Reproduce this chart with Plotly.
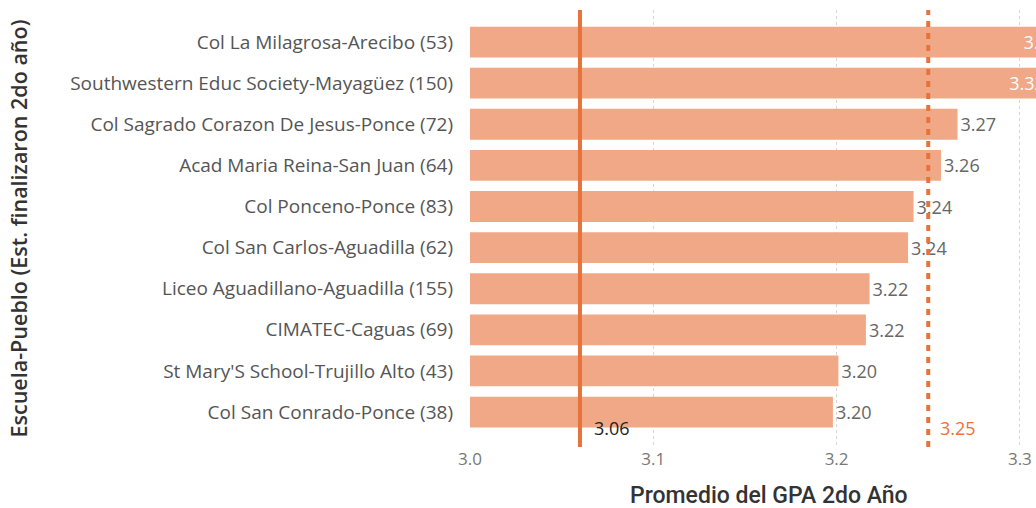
import plotly.graph_objects as go

# data
schools = [
    "Col La Milagrosa-Arecibo (53)",
    "Southwestern Educ Society-Mayagüez (150)",
    "Col Sagrado Corazon De Jesus-Ponce (72)",
    "Acad Maria Reina-San Juan (64)",
    "Col Ponceno-Ponce (83)",
    "Col San Carlos-Aguadilla (62)",
    "Liceo Aguadillano-Aguadilla (155)",
    "CIMATEC-Caguas (69)",
    "St Mary'S School-Trujillo Alto (43)",
    "Col San Conrado-Ponce (38)",
]
gpa = [3.323, 3.3152, 3.266, 3.257, 3.242, 3.239, 3.218, 3.216, 3.201, 3.198]
avg_line = 3.06
ref_line = 3.25
x_ticks = [3.0, 3.1, 3.2, 3.3]

bar_color = "#F0A886"
line_color = "#E8733A"

# labels that don't fit past the axis end go inside the bar
text_pos = ["inside" if v > 3.29 else "outside" for v in gpa]

fig = go.Figure()

fig.add_trace(go.Bar(
    x=gpa,
    y=schools,
    orientation="h",
    marker=dict(color=bar_color, line=dict(width=0)),
    width=0.75,
    texttemplate="%{x:.2f}",
    textposition=text_pos,
    insidetextanchor="end",
    insidetextfont=dict(color="white", size=18, family="Open Sans"),
    outsidetextfont=dict(color="#666666", size=18, family="Open Sans"),
    cliponaxis=True,
    hoverinfo="x+y",
    showlegend=False,
))

# average / reference lines
fig.add_vline(x=avg_line, line=dict(color=line_color, width=4), layer="above")
fig.add_vline(x=ref_line, line=dict(color=line_color, width=4, dash="6px,6px"), layer="above")

fig.add_annotation(x=avg_line, y=0.0435, xref="x", yref="paper", text=f"{avg_line:.2f}",
                   showarrow=False, xanchor="left", yanchor="middle", xshift=12,
                   font=dict(size=18, color="#222222", family="Open Sans"))
fig.add_annotation(x=ref_line, y=0.0435, xref="x", yref="paper", text=f"{ref_line:.2f}",
                   showarrow=False, xanchor="left", yanchor="middle", xshift=10,
                   font=dict(size=18, color=line_color, family="Open Sans"))

# x-axis title, sits a little right of the plot centre in the reference
fig.add_annotation(x=0.528, y=-0.11, xref="paper", yref="paper",
                   text="Promedio del GPA 2do Año", showarrow=False,
                   xanchor="center", yanchor="middle",
                   font=dict(size=23, color="#333333", family="Roboto", weight=500))

fig.update_layout(
    width=1036,
    height=508,
    margin=dict(l=470, r=0, t=10, b=61),
    plot_bgcolor="white",
    paper_bgcolor="white",
    xaxis=dict(
        range=[3.0, 3.3088],
        tickvals=x_ticks,
        ticktext=[f"{t:.1f}" for t in x_ticks],
        showgrid=True,
        gridcolor="#D6D6D6",
        griddash="dot",
        gridwidth=1,
        zeroline=False,
        showline=False,
        ticks="",
        tickfont=dict(size=17, color="#777777", family="Open Sans"),
    ),
    yaxis=dict(
        categoryorder="array",
        categoryarray=schools,
        range=[9.85, -0.78],
        showgrid=False,
        zeroline=False,
        ticks="",
        ticklabelstandoff=16,
        tickfont=dict(size=19, color="#555555", family="Open Sans"),
        title=dict(text="Escuela-Pueblo (Est. finalizaron 2do año)", standoff=36,
                   font=dict(size=21.5, color="#333333", family="Open Sans", weight=600)),
    ),
)

fig.write_html("out.html", config={"displayModeBar": False},
               post_script="document.body.style.margin='0';")
